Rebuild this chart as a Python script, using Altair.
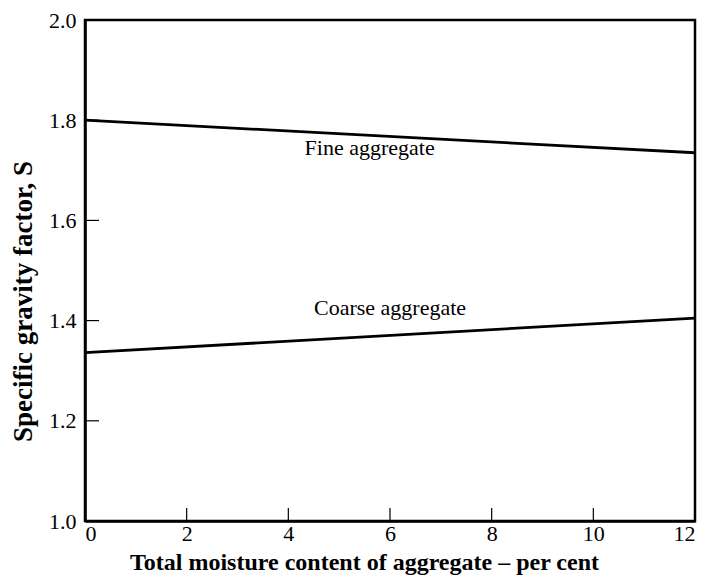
import altair as alt
import pandas as pd

moisture = [0, 12]
fine = [1.80, 1.735]
coarse = [1.336, 1.405]

x_ticks = [0, 2, 4, 6, 8, 10, 12]
y_ticks = [1.0, 1.2, 1.4, 1.6, 1.8, 2.0]

label_text = ["Fine aggregate", "Coarse aggregate"]
label_x = [5.6, 6.0]
label_y = [1.745, 1.425]

lines = pd.DataFrame({
    "m": moisture * 2,
    "s": fine + coarse,
    "series": ["Fine"] * 2 + ["Coarse"] * 2,
})
labels = pd.DataFrame({"t": label_text, "x": label_x, "y": label_y})
xt = pd.DataFrame({"v": x_ticks[1:-1]})
yt = pd.DataFrame({"v": y_ticks[1:-1]})

FONT = "Liberation Serif"

xs = alt.Scale(domain=[0, 12], nice=False, zero=False)
ys = alt.Scale(domain=[1.0, 2.0], nice=False, zero=False)

H = 501

base_line = alt.Chart(lines).mark_line(color="black", strokeWidth=2.8).encode(
    x=alt.X("m:Q", scale=xs, axis=alt.Axis(
        values=x_ticks, format="d", title="Total moisture content of aggregate \u2013 per cent",
        tickSize=0, labelPadding=2, grid=False,
        labelFont=FONT, labelFontSize=22, labelColor="black",
        titleFont=FONT, titleFontSize=24, titleFontWeight="bold", titleColor="black",
        titleX=279, titleY=48, titleBaseline="alphabetic", titleAlign="center",
        domainColor="black", domainWidth=2.5)),
    y=alt.Y("s:Q", scale=ys, axis=alt.Axis(
        values=y_ticks, format=".1f", title="Specific gravity factor, S",
        tickSize=0, labelPadding=9, grid=False,
        labelFont=FONT, labelFontSize=22, labelColor="black",
        titleFont=FONT, titleFontSize=27, titleFontWeight="bold", titleColor="black",
        titleX=-54, titleY=281, titleBaseline="alphabetic", titleAlign="center", titleAngle=270,
        domainColor="black", domainWidth=2.5)),
    detail="series:N",
)

txt = alt.Chart(labels).mark_text(font=FONT, fontSize=22, color="black").encode(
    x=alt.X("x:Q", scale=xs), y=alt.Y("y:Q", scale=ys), text="t:N")

xtick = alt.Chart(xt).mark_rule(color="black", strokeWidth=1.2).encode(
    x=alt.X("v:Q", scale=xs), y=alt.value(H), y2=alt.value(H - 13))
ytick = alt.Chart(yt).mark_rule(color="black", strokeWidth=1.2).encode(
    y=alt.Y("v:Q", scale=ys), x=alt.value(0), x2=alt.value(14))

chart = alt.layer(base_line, xtick, ytick, txt).properties(
    width=610, height=H,
    autosize=alt.AutoSizeParams(type="none"),
    padding={"left": 77, "top": 12, "right": 5, "bottom": 56},
).configure_view(stroke="black", strokeWidth=2.5)

chart.save("out.html", embed_options={"renderer": "svg", "actions": False})
